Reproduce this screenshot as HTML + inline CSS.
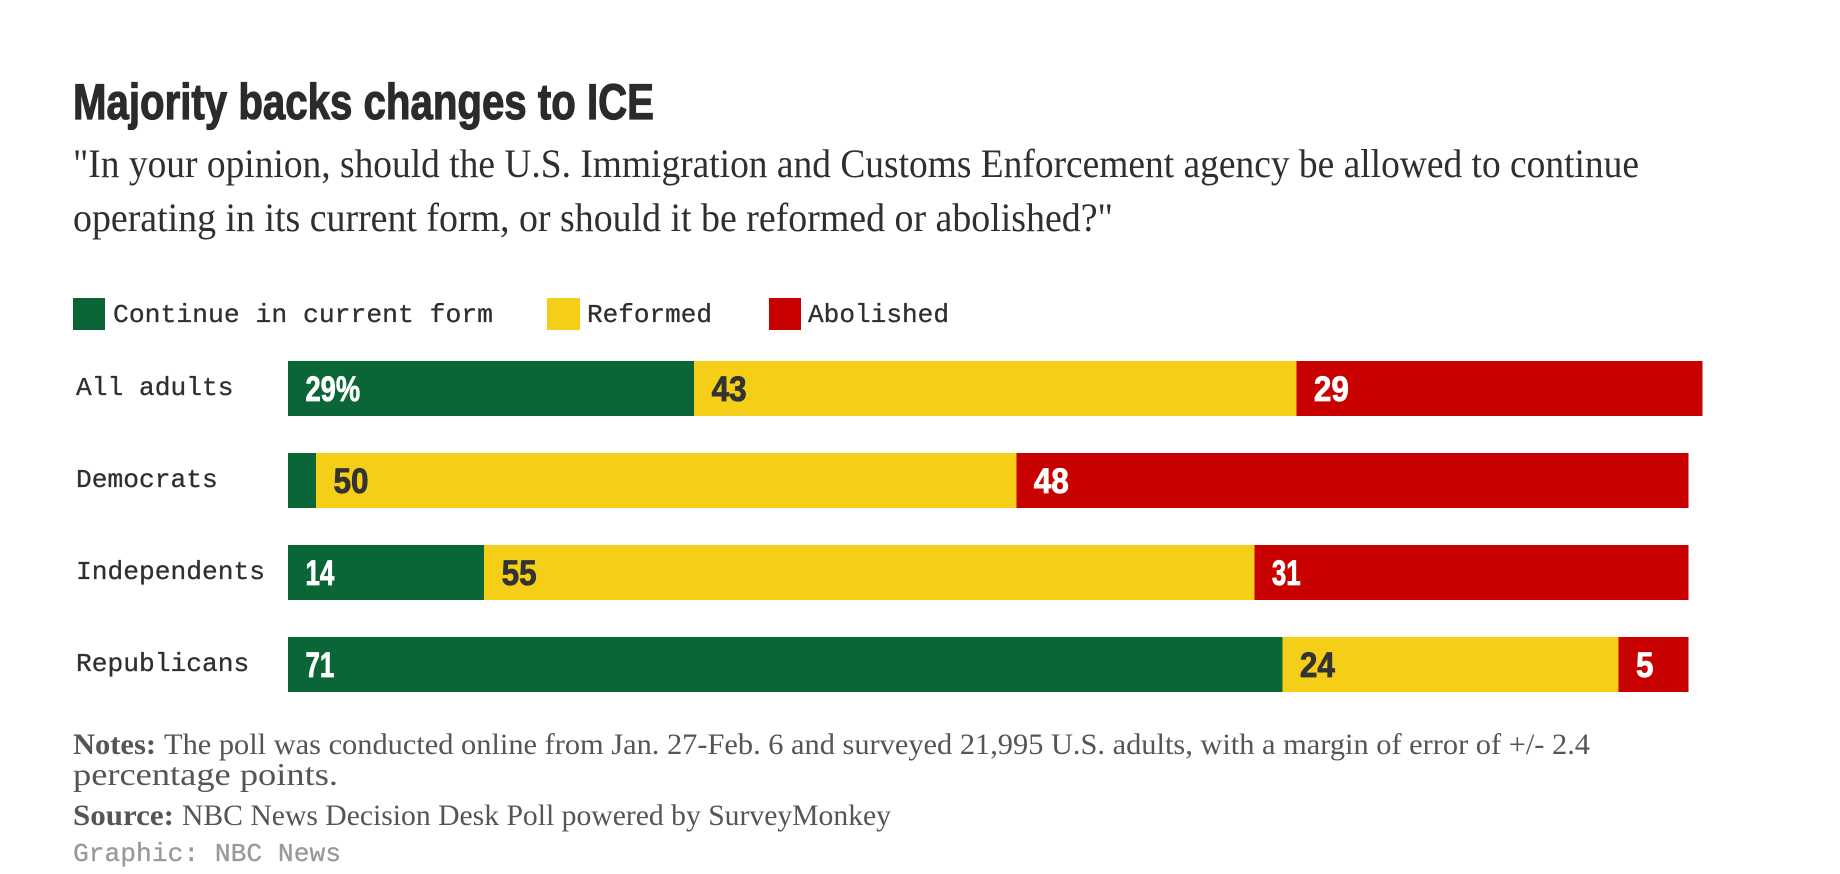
<!DOCTYPE html>
<html lang="en">
<head>
<meta charset="utf-8">
<title>Majority backs changes to ICE</title>
<style>
  html, body { margin: 0; padding: 0; background: #fff; width: 1840px; height: 874px; overflow: hidden; }
  svg { display: block; }
  .title { font: 700 50px "Liberation Sans", sans-serif; fill: #2b2b2b; stroke: #2b2b2b; stroke-width: 1.2px; }
  .sub { font: 400 40px "Liberation Serif", serif; fill: #2f2f2f; }
  .mono { font: 400 26px "Liberation Mono", monospace; fill: #2f2f2f; stroke: #2f2f2f; stroke-width: 0.3px; }
  .note { font: 400 30px "Liberation Serif", serif; fill: #555; }
  .note-wide { font: 400 32px "Liberation Serif", serif; fill: #555; }
  .note-b { font: 700 30px "Liberation Serif", serif; fill: #555; }
  .credit { font: 400 26px "Liberation Mono", monospace; fill: #999; stroke: #999; stroke-width: 0.3px; }
  .val { font: 700 35px "Liberation Sans", sans-serif; stroke-width: 0.8px; }
</style>
</head>
<body>
<svg id="chart" width="1840" height="874" viewBox="0 0 1840 874" xmlns="http://www.w3.org/2000/svg">
  <rect x="0" y="0" width="1840" height="874" fill="#fff"/>
  <text class="title" x="73" y="119" textLength="581" lengthAdjust="spacingAndGlyphs">Majority backs changes to ICE</text>
  <text class="sub" x="73" y="177" textLength="1566" lengthAdjust="spacingAndGlyphs">"In your opinion, should the U.S. Immigration and Customs Enforcement agency be allowed to continue</text>
  <text class="sub" x="73" y="231" textLength="1040" lengthAdjust="spacingAndGlyphs">operating in its current form, or should it be reformed or abolished?"</text>

  <g>
    <rect x="73" y="298" width="32" height="32" fill="#0a6537"/>
    <text class="mono" x="113" y="322" textLength="380" lengthAdjust="spacingAndGlyphs">Continue in current form</text>
    <rect x="547" y="298" width="33" height="32" fill="#f5cf17"/>
    <text class="mono" x="587" y="322" textLength="125" lengthAdjust="spacingAndGlyphs">Reformed</text>
    <rect x="769" y="298" width="32" height="32" fill="#c80000"/>
    <text class="mono" x="808" y="322" textLength="141" lengthAdjust="spacingAndGlyphs">Abolished</text>
  </g>

  <g id="plot"></g>

  <g>
    <text class="note-b" x="73" y="754" textLength="83" lengthAdjust="spacingAndGlyphs">Notes:</text>
    <text class="note" x="164" y="754" textLength="1426" lengthAdjust="spacingAndGlyphs">The poll was conducted online from Jan. 27-Feb. 6 and surveyed 21,995 U.S. adults, with a margin of error of +/- 2.4</text>
    <text class="note-wide" x="73" y="785" textLength="265" lengthAdjust="spacingAndGlyphs">percentage points.</text>
    <text class="note-b" x="73" y="825" textLength="101" lengthAdjust="spacingAndGlyphs">Source:</text>
    <text class="note" x="182" y="825" textLength="709" lengthAdjust="spacingAndGlyphs">NBC News Decision Desk Poll powered by SurveyMonkey</text>
    <text class="credit" x="73" y="861" textLength="268" lengthAdjust="spacingAndGlyphs">Graphic: NBC News</text>
  </g>
</svg>
<script>
const categories = ['All adults', 'Democrats', 'Independents', 'Republicans'];
const continueValues = [29, 2, 14, 71];
const reformedValues = [43, 50, 55, 24];
const abolishedValues = [29, 48, 31, 5];
const seriesNames = ['continue', 'reformed', 'abolished'];
const seriesValues = [continueValues, reformedValues, abolishedValues];
const seriesFills = ['#0a6537', '#f5cf17', '#c80000'];
const labelFills = ['#ffffff', '#333333', '#ffffff'];

const NS = 'http://www.w3.org/2000/svg';
const plot = document.getElementById('plot');
const x = v => 288 + v * 14.005;
const rowTop = i => 361 + i * 92;
const BAR_H = 55;
const MIN_LABEL_VALUE = 4;
const labelScale = s => s.includes('%') ? 0.78 : (s.includes('1') ? 0.74 : 0.9);

categories.forEach((cat, i) => {
  const catLabel = document.createElementNS(NS, 'text');
  
  
  catLabel.setAttribute('class', 'mono');
  catLabel.setAttribute('x', 76);
  catLabel.setAttribute('y', rowTop(i) + 34);
  catLabel.setAttribute('textLength', cat.length * 15.75);
  catLabel.setAttribute('lengthAdjust', 'spacingAndGlyphs');
  catLabel.textContent = cat;
  plot.appendChild(catLabel);

  let cum = 0;
  seriesValues.forEach((vals, s) => {
    const v = vals[i];
    const bar = document.createElementNS(NS, 'rect');
    
    
    bar.setAttribute('data-series', seriesNames[s]);
    bar.setAttribute('x', x(cum));
    bar.setAttribute('y', rowTop(i));
    bar.setAttribute('width', x(cum + v) - x(cum));
    bar.setAttribute('height', BAR_H);
    bar.setAttribute('fill', seriesFills[s]);
    bar.setAttribute('shape-rendering', 'crispEdges');
    plot.appendChild(bar);

    if (v >= MIN_LABEL_VALUE) {
      const label = (i === 0 && s === 0) ? v + '%' : String(v);
      const t = document.createElementNS(NS, 'text');
      
      
      t.setAttribute('class', 'val');
      t.setAttribute('fill', labelFills[s]);
      t.setAttribute('stroke', labelFills[s]);
      t.setAttribute('transform', 'translate(' + (x(cum) + 17.5) + ',' + (rowTop(i) + 40) + ') scale(' + labelScale(label) + ',1)');
      t.textContent = label;
      plot.appendChild(t);
    }
    cum += v;
  });
});
</script>
</body>
</html>
